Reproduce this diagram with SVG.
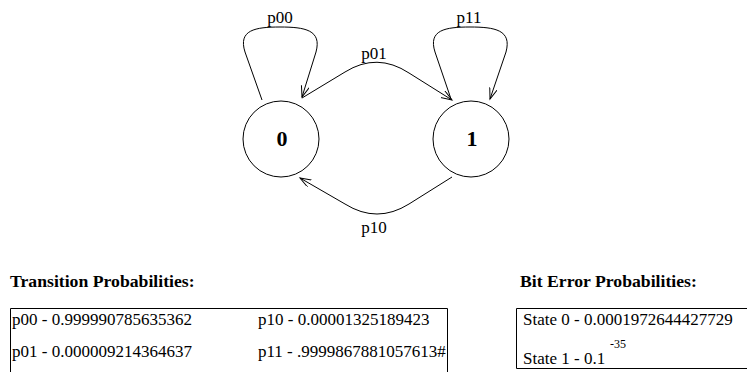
<svg xmlns="http://www.w3.org/2000/svg" width="747" height="372" viewBox="0 0 747 372">
<style>
.ln{fill:none;stroke:#000;stroke-width:1}
.st{fill:#fff;stroke:#000;stroke-width:1}
.t{font-family:"Liberation Serif","Times New Roman",serif;font-size:17px;fill:#000}
.lb{font-family:"Liberation Serif","Times New Roman",serif;font-size:17px;fill:#000;text-anchor:middle}
.nm{font-family:"Liberation Serif","Times New Roman",serif;font-size:22px;font-weight:bold;fill:#000;text-anchor:middle}
.h{font-family:"Liberation Serif","Times New Roman",serif;font-size:17.7px;font-weight:bold;fill:#000}
.sup{font-family:"Liberation Serif","Times New Roman",serif;font-size:12px;fill:#000}
.box{fill:none;stroke:#000;stroke-width:1}
</style>
<defs>
<marker id="ar" markerUnits="userSpaceOnUse" markerWidth="14" markerHeight="10" refX="11" refY="4" orient="auto">
<path d="M0,0 L11,4 L0,8" fill="none" stroke="#000" stroke-width="1"/>
</marker>
</defs>
<g id="connectors">
<path class="ln" d="M262,100 L245,52 C238,30 255,27 280,27 C305,27 322,30 316,52 L302,97" marker-end="url(#ar)"/>
<path class="ln" d="M451,99 L435,52 C428,30 445,27 470,27 C495,27 512,30 506,52 L490,99" marker-end="url(#ar)"/>
<path class="ln" d="M302,98 L345,72 Q377,52 409,73 L452,100" marker-end="url(#ar)"/>
<path class="ln" d="M452,177 L409,204 Q377,224 345,204 L300,178" marker-end="url(#ar)"/>
<text class="lb" x="280" y="23">p00</text>
<text class="lb" x="469" y="23">p11</text>
<text class="lb" x="374" y="59">p01</text>
<text class="lb" x="374" y="233">p10</text>
</g>
<g id="state0">
<circle class="st" cx="281" cy="139" r="38"/>
<text class="nm" x="282" y="146">0</text>
</g>
<g id="state1">
<circle class="st" cx="471" cy="139" r="38"/>
<text class="nm" x="472" y="146">1</text>
</g>
<g id="transition-table">
<text class="h" x="10" y="287">Transition Probabilities:</text>
<path class="box" d="M10.5,373 V308.5 H447.5 V373"/>
<text class="t" x="12" y="325">p00 - 0.999990785635362</text>
<text class="t" x="258" y="325">p10 - 0.00001325189423</text>
<text class="t" x="12" y="357">p01 - 0.000009214364637</text>
<text class="t" x="258" y="357">p11 - .9999867881057613#</text>
</g>
<g id="error-table">
<text class="h" x="520" y="287">Bit Error Probabilities:</text>
<path class="box" d="M748,308.5 H516.5 V368.5 H748"/>
<text class="t" x="523" y="325">State 0 - 0.0001972644427729</text>
<text class="t" x="523" y="364">State 1 - 0.1</text>
<text class="sup" x="610" y="348">-35</text>
</g>
</svg>
